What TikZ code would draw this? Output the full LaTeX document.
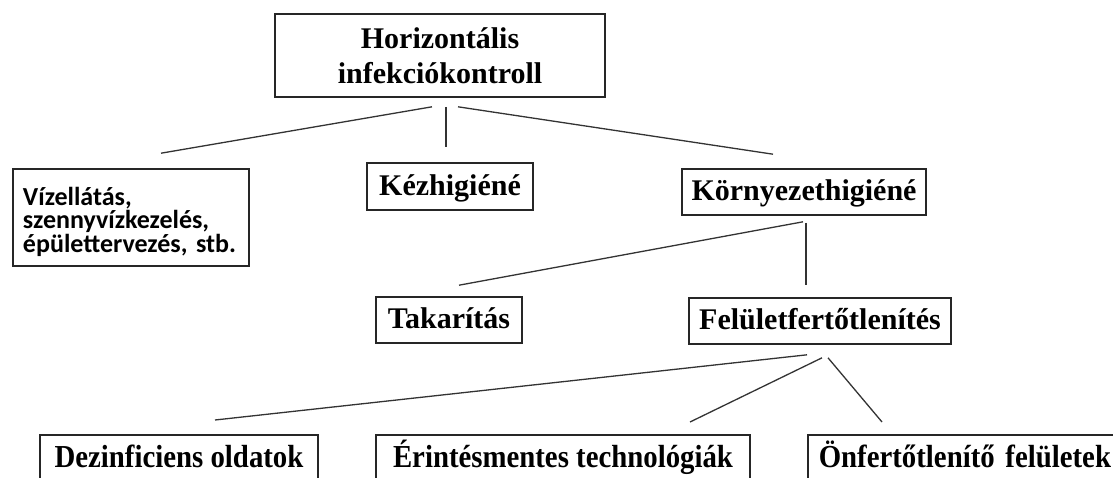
\documentclass[tikz,border=0pt]{standalone}
\usepackage{fontspec}
\usepackage{tikz}
\usetikzlibrary{calc}
\setmainfont{Liberation Serif}
\newfontfamily\boxsans{Carlito}
\newfontfamily\condserif[FakeStretch=0.9]{Liberation Serif}

\begin{document}
\begin{tikzpicture}[x=1pt, y=-1pt,
        box/.style={draw=black!85, line width=1.6pt, inner sep=0pt},
        head/.style={box, font=\fontsize{30}{35}\selectfont\bfseries, align=center},
        leaf/.style={box, font=\fontsize{30}{35}\selectfont\bfseries, text height=24pt, text depth=7pt},
        low/.style={box, font=\condserif\fontsize{32}{36}\selectfont\bfseries, text height=25pt, text depth=8pt, inner ysep=8pt, anchor=north},
        link/.style={draw=black!80, line width=1.3pt}]
        \useasboundingbox (0,0) rectangle (1113,477);
        \clip (0,0) rectangle (1113,477);
        % boxes
        \node (top) [head, minimum width=330pt, minimum height=83pt] at (440,55.5) {Horizontális\\infekciókontroll};
        \node (vizell) [box, font=\boxsans\fontsize{26}{23.5}\selectfont\bfseries, align=left, text width=216pt, inner xsep=10pt, text height=27pt, minimum height=97pt] at (131,217.5) {Vízellátás,\\szennyvízkezelés,\\épülettervezés, stb.};
        \node (kez) [leaf, minimum width=166pt, minimum height=47pt] at (450,186.5) {Kézhigiéné};
        \node (korny) [leaf, minimum width=244pt, minimum height=46pt] at (804,192) {Környezethigiéné};
        \node (takar) [leaf, minimum width=146pt, minimum height=46pt] at (449,320) {Takarítás};
        \node (felulet) [leaf, minimum width=262pt, minimum height=46pt] at (820,321) {Felületfertőtlenítés};
        \node (dezinf) [low, minimum width=278pt] at (179,434) {Dezinficiens oldatok};
        \node (erint) [low, minimum width=374pt] at (563,434) {Érintésmentes technológiák};
        \node (onfert) [low, anchor=north west, text width=300pt, align=left, inner xsep=11pt] at (807,434) {Önfertőtlenítő felületek};
        % connectors
        \draw[link] ($(top.south)+(-8,9)$) -- ($(vizell.north)+(30,-15)$);
        \draw[link] ($(top.south)+(6,9)$) -- ($(kez.north)+(-4,-15)$);
        \draw[link] ($(top.south)+(18,9)$) -- ($(korny.north)+(-31,-14)$);
        \draw[link] ($(korny.south)+(-1,6)$) -- ($(takar.north)+(10,-11)$);
        \draw[link] ($(korny.south)+(2,7)$) -- ($(felulet.north)+(-14,-12)$);
        \draw[link] ($(felulet.south)+(-13,10)$) -- ($(dezinf.north)+(36,-14)$);
        \draw[link] ($(felulet.south)+(2,13)$) -- ($(erint.north)+(127,-12)$);
        \draw[link] ($(felulet.south)+(8,13)$) -- ($(onfert.north west)+(75,-12)$);
\end{tikzpicture}
\end{document}
